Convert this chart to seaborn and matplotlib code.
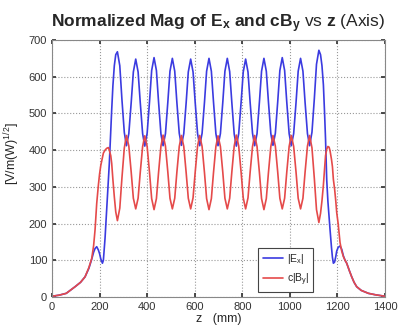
import pandas as pd
import matplotlib
matplotlib.use('Agg')
import matplotlib.pyplot as plt
import seaborn as sns

# z positions (mm)
z_mm = [
    0, 30, 60, 97, 120, 139, 155, 167, 175, 181, 188, 195, 200, 205, 212, 216,
    223, 230, 237, 241, 247, 251, 256, 262, 268,
    275, 285, 294, 304, 313, 323, 333, 342,
    352, 362, 371, 381, 390, 400, 410, 419,
    429, 439, 448, 458, 467, 477, 487, 496,
    506, 516, 525, 535, 544, 554, 564, 573,
    583, 593, 602, 612, 621, 631, 641, 650,
    660, 670, 679, 689, 698, 708, 718, 727,
    737, 747, 756, 766, 775, 785, 795, 804,
    814, 824, 833, 843, 852, 862, 872, 881,
    891, 901, 910, 920, 929, 939, 949, 958,
    968, 978, 987, 997, 1006, 1016, 1026, 1035,
    1045, 1055, 1064, 1074, 1083, 1093, 1103, 1112,
    1122,
    1129, 1135, 1141, 1146, 1150, 1155, 1160, 1165, 1169, 1175, 1179, 1183,
    1188, 1193, 1197, 1203, 1211, 1218, 1225, 1232, 1239, 1250, 1260, 1270,
    1281, 1300, 1330, 1360, 1400,
]

# |Ex|
ex_abs = [
    2, 5, 10, 28, 40, 55, 78, 103, 122, 132, 137, 128, 118, 104, 92, 100,
    160, 240, 320, 364, 455, 510, 575, 630, 660,
    668, 630, 538, 448, 412, 445, 530, 613,
    648, 613, 530, 445, 411, 446, 532, 617,
    652, 617, 531, 444, 412, 445, 531, 615,
    650, 615, 530, 446, 413, 445, 529, 613,
    648, 613, 530, 445, 412, 446, 530, 615,
    650, 615, 531, 445, 412, 445, 530, 615,
    650, 614, 530, 444, 411, 445, 530, 613,
    648, 613, 530, 446, 412, 445, 531, 615,
    650, 615, 531, 445, 413, 446, 532, 617,
    652, 617, 531, 445, 412, 445, 530, 615,
    650, 615, 530, 445, 412, 449, 541, 634,
    672,
    660, 630, 578, 500, 430, 319, 260, 215, 183, 135, 108, 92,
    95, 110, 125, 135, 139, 130, 112, 100, 92, 72, 55, 40,
    28, 18, 10, 6, 2,
]

# c|By|
cby_abs = [
    2, 5, 10, 28, 40, 55, 80, 105, 140, 183, 255, 305, 335, 358, 380, 392,
    400, 405, 407, 400, 385, 364, 320, 273, 232,
    208, 242, 324, 406, 440, 411, 340, 269,
    240, 269, 339, 410, 439, 410, 339, 268,
    238, 268, 339, 411, 441, 411, 340, 269,
    240, 269, 340, 410, 440, 410, 339, 269,
    240, 270, 340, 411, 440, 410, 339, 268,
    238, 268, 339, 410, 439, 410, 340, 269,
    240, 269, 340, 411, 441, 411, 340, 270,
    240, 270, 340, 410, 440, 410, 339, 268,
    238, 268, 339, 410, 440, 411, 340, 269,
    240, 269, 340, 410, 440, 410, 340, 269,
    240, 269, 340, 411, 440, 406, 322, 238,
    203,
    228, 262, 305, 350, 385, 403, 410, 408, 398, 375, 355, 320,
    295, 262, 230, 200, 148, 125, 110, 100, 92, 72, 55, 40,
    28, 18, 10, 6, 2,
]

df = pd.DataFrame({'z': z_mm, 'ex': ex_abs, 'cby': cby_abs})

sns.set_theme(style='white')
plt.rcParams['font.family'] = ['Liberation Sans', 'DejaVu Sans']
plt.rcParams['mathtext.fontset'] = 'custom'
plt.rcParams['mathtext.rm'] = 'Liberation Sans'
plt.rcParams['mathtext.it'] = 'Liberation Sans:italic'
plt.rcParams['mathtext.bf'] = 'Liberation Sans:bold'

fig = plt.figure(figsize=(3.98, 3.25), dpi=100)
ax = fig.add_axes([52 / 398, 28 / 325, 333 / 398, 257 / 325])

sns.lineplot(data=df, x='z', y='ex', color='#3b3be0', lw=1.2,
             label=r'|E$_\mathrm{x}$|', sort=False, ax=ax)
sns.lineplot(data=df, x='z', y='cby', color='#e54a4a', lw=1.2,
             label=r'c|B$_\mathrm{y}$|', sort=False, ax=ax)

ax.set_xlim(0, 1400)
ax.set_ylim(0, 700)
ax.set_xticks(range(0, 1401, 200))
ax.set_yticks(range(0, 701, 100))
ax.tick_params(direction='in', length=3, labelsize=8, colors='#333333',
               top=True, right=True, bottom=True, left=True)
ax.grid(True, ls=':', color='#999999', lw=0.8)
for s in ax.spines.values():
    s.set_color('#888888')
    s.set_linewidth(0.8)

ax.set_title(r'$\mathbf{Normalized\ Mag\ of\ E_x\ and\ cB_y}$ vs $\mathbf{z}$ (Axis)',
             fontsize=12.5, pad=9)
ax.set_xlabel('z   (mm)', fontsize=9, labelpad=1)
ax.set_ylabel(r'[V/m(W)$^{1/2}$]', fontsize=9)
ax.yaxis.set_label_coords(-0.09, 0.56)

leg = ax.legend(loc='lower left', bbox_to_anchor=(0.62, 0.02), fontsize=7.5,
                fancybox=False, framealpha=1, edgecolor='#444444',
                handlelength=2.0, handletextpad=0.3, borderpad=0.4,
                labelspacing=0.5, borderaxespad=0)
leg.get_frame().set_linewidth(0.8)

plt.savefig('out.png', dpi=100)
